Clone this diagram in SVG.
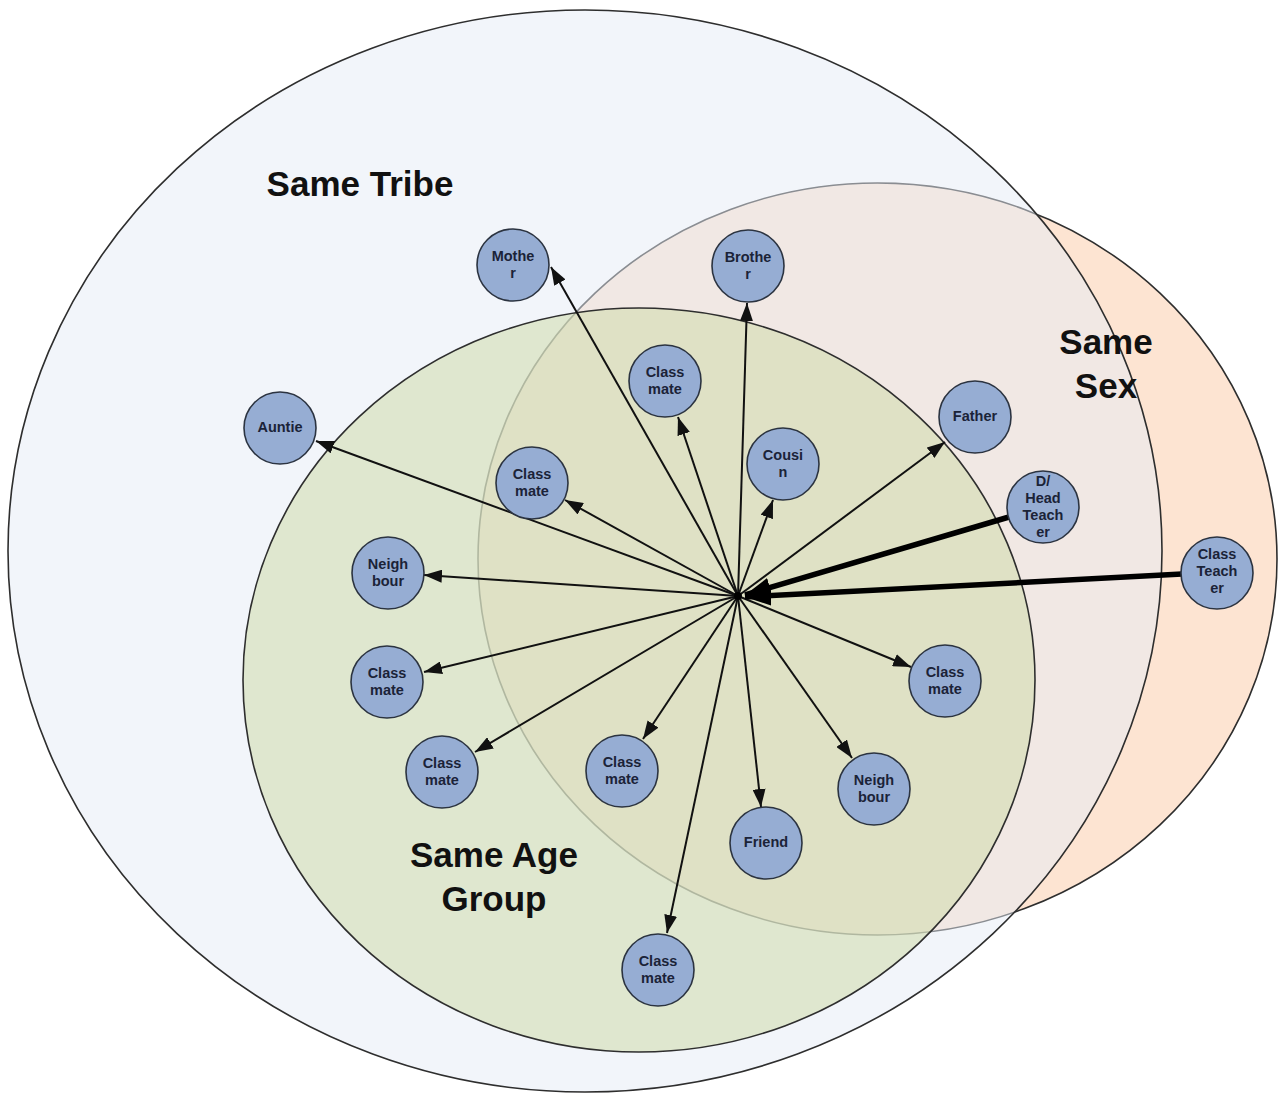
<svg xmlns="http://www.w3.org/2000/svg" width="1282" height="1093" viewBox="0 0 1282 1093">
  <defs>
    <style>
      .set { stroke: #2e2e2e; stroke-width: 1.6; }
      .region { font-family: "Liberation Sans", Arial, sans-serif; font-weight: bold; font-size: 35px; fill: #111; text-anchor: middle; }
      .node ellipse, .node circle { fill: #96add3; stroke: #2b3340; stroke-width: 1.6; }
      .node text { font-family: "Liberation Sans", Arial, sans-serif; font-weight: bold; font-size: 14.5px; fill: #1b2338; text-anchor: middle; }
      .edge { stroke: #111; stroke-width: 2; fill: none; marker-end: url(#arrow); }
      .edge-strong { stroke: #000; stroke-width: 5.5; fill: none; marker-end: url(#arrow-strong); }
    </style>
    <marker id="arrow" markerUnits="userSpaceOnUse" markerWidth="18" markerHeight="13" refX="18" refY="6.5" orient="auto">
      <path d="M0,0 L18,6.5 L0,13 z" fill="#111"/>
    </marker>
    <marker id="arrow-strong" markerUnits="userSpaceOnUse" markerWidth="26" markerHeight="20" refX="26" refY="10" orient="auto">
      <path d="M0,0 L26,10 L0,20 z" fill="#000"/>
    </marker>
  </defs>

  <rect width="1282" height="1093" fill="#ffffff"/>

  <!-- Overlapping sets -->
  <g id="sets">
    <ellipse id="set-sex" class="set" cx="877.5" cy="559" rx="399.5" ry="376" fill="#fde4d2"/>
    <ellipse id="set-tribe" class="set" cx="585" cy="551" rx="577" ry="541" fill="#e5ebf5" fill-opacity="0.5"/>
    <ellipse id="set-age" class="set" cx="639" cy="680" rx="396" ry="372" fill="#cfdaac" fill-opacity="0.55"/>
  </g>

  <!-- Set labels -->
  <g id="labels">
    <text class="region" x="360" y="196">Same Tribe</text>
    <text class="region" x="1106" y="354">Same</text>
    <text class="region" x="1106" y="398">Sex</text>
    <text class="region" x="494" y="867">Same Age</text>
    <text class="region" x="494" y="911">Group</text>
  </g>

  <!-- Connectors radiating from the hub -->
  <g id="connectors">
    <line class="edge" x1="738" y1="596" x2="551" y2="267"/>
    <line class="edge" x1="738" y1="596" x2="747" y2="303"/>
    <line class="edge" x1="738" y1="596" x2="678" y2="417"/>
    <line class="edge" x1="738" y1="596" x2="773" y2="500"/>
    <line class="edge" x1="738" y1="596" x2="565" y2="500"/>
    <line class="edge" x1="738" y1="596" x2="316" y2="441"/>
    <line class="edge" x1="738" y1="596" x2="424" y2="575"/>
    <line class="edge" x1="738" y1="596" x2="424" y2="672"/>
    <line class="edge" x1="738" y1="596" x2="475" y2="752"/>
    <line class="edge" x1="738" y1="596" x2="643" y2="739"/>
    <line class="edge" x1="738" y1="596" x2="667" y2="933"/>
    <line class="edge" x1="738" y1="596" x2="761" y2="807"/>
    <line class="edge" x1="738" y1="596" x2="852" y2="758"/>
    <line class="edge" x1="738" y1="596" x2="911" y2="667"/>
    <line class="edge" x1="738" y1="596" x2="945" y2="442"/>
    <line class="edge-strong" x1="1009" y1="517" x2="745" y2="595"/>
    <line class="edge-strong" x1="1182" y1="574" x2="745" y2="597"/>
    <circle cx="738" cy="596" r="4" fill="#000"/>
  </g>

  <!-- People -->
  <g id="node-mother" class="node">
    <circle cx="513" cy="265" r="36"/>
    <text x="513" y="261">Mothe</text>
    <text x="513" y="278">r</text>
  </g>
  <g id="node-brother" class="node">
    <circle cx="748" cy="266" r="36"/>
    <text x="748" y="262">Brothe</text>
    <text x="748" y="279">r</text>
  </g>
  <g id="node-classmate-1" class="node">
    <circle cx="665" cy="381" r="36"/>
    <text x="665" y="377">Class</text>
    <text x="665" y="394">mate</text>
  </g>
  <g id="node-cousin" class="node">
    <circle cx="783" cy="464" r="36"/>
    <text x="783" y="460">Cousi</text>
    <text x="783" y="477">n</text>
  </g>
  <g id="node-classmate-2" class="node">
    <circle cx="532" cy="483" r="36"/>
    <text x="532" y="479">Class</text>
    <text x="532" y="496">mate</text>
  </g>
  <g id="node-auntie" class="node">
    <circle cx="280" cy="428" r="36"/>
    <text x="280" y="432">Auntie</text>
  </g>
  <g id="node-neighbour-1" class="node">
    <circle cx="388" cy="573" r="36"/>
    <text x="388" y="569">Neigh</text>
    <text x="388" y="586">bour</text>
  </g>
  <g id="node-classmate-3" class="node">
    <circle cx="387" cy="682" r="36"/>
    <text x="387" y="678">Class</text>
    <text x="387" y="695">mate</text>
  </g>
  <g id="node-classmate-4" class="node">
    <circle cx="442" cy="772" r="36"/>
    <text x="442" y="768">Class</text>
    <text x="442" y="785">mate</text>
  </g>
  <g id="node-classmate-5" class="node">
    <circle cx="622" cy="771" r="36"/>
    <text x="622" y="767">Class</text>
    <text x="622" y="784">mate</text>
  </g>
  <g id="node-friend" class="node">
    <circle cx="766" cy="843" r="36"/>
    <text x="766" y="847">Friend</text>
  </g>
  <g id="node-neighbour-2" class="node">
    <circle cx="874" cy="789" r="36"/>
    <text x="874" y="785">Neigh</text>
    <text x="874" y="802">bour</text>
  </g>
  <g id="node-classmate-6" class="node">
    <circle cx="658" cy="970" r="36"/>
    <text x="658" y="966">Class</text>
    <text x="658" y="983">mate</text>
  </g>
  <g id="node-classmate-7" class="node">
    <circle cx="945" cy="681" r="36"/>
    <text x="945" y="677">Class</text>
    <text x="945" y="694">mate</text>
  </g>
  <g id="node-father" class="node">
    <circle cx="975" cy="417" r="36"/>
    <text x="975" y="421">Father</text>
  </g>
  <g id="node-head-teacher" class="node">
    <circle cx="1043" cy="507" r="36"/>
    <text x="1043" y="486">D/</text>
    <text x="1043" y="503">Head</text>
    <text x="1043" y="520">Teach</text>
    <text x="1043" y="537">er</text>
  </g>
  <g id="node-class-teacher" class="node">
    <circle cx="1217" cy="573" r="36"/>
    <text x="1217" y="559">Class</text>
    <text x="1217" y="576">Teach</text>
    <text x="1217" y="593">er</text>
  </g>
</svg>
